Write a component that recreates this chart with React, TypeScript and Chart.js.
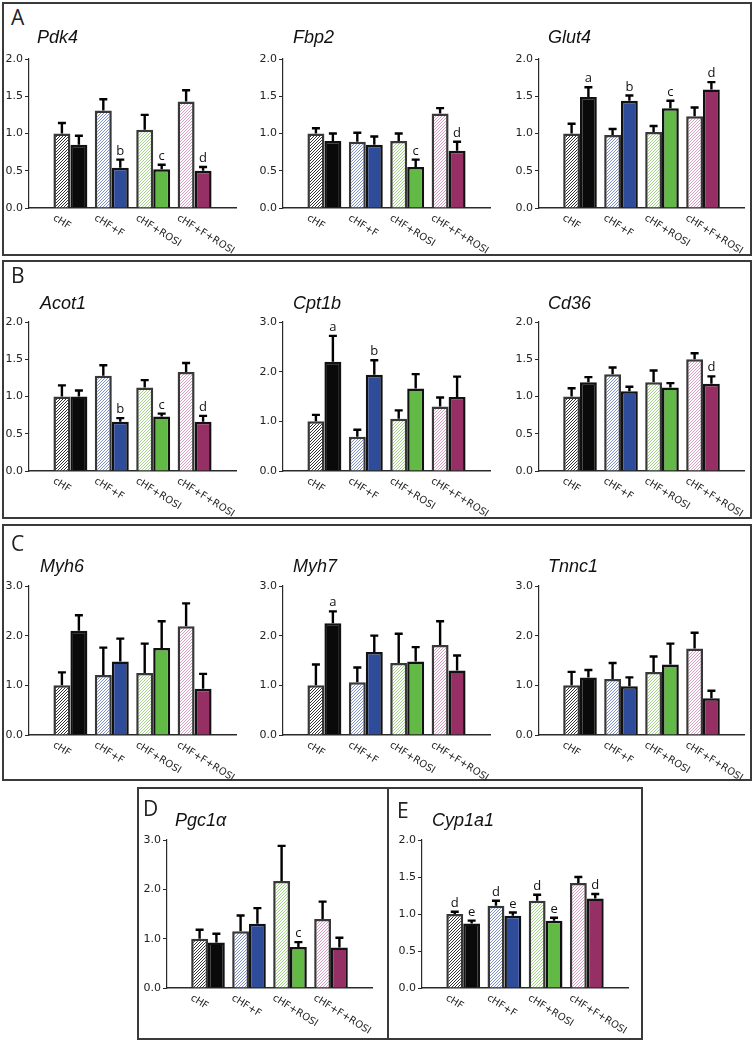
import React, { useEffect, useRef } from "react";
import { Chart, registerables } from "chart.js";

Chart.register(...registerables);

// ---------- data ----------
const categories = ["cHF", "cHF+F", "cHF+ROSI", "cHF+F+ROSI"];

const pdk4Hatched = [1.0, 1.31, 1.05, 1.43];
const pdk4HatchedErr = [0.14, 0.15, 0.2, 0.15];
const pdk4Solid = [0.85, 0.54, 0.52, 0.5];
const pdk4SolidErr = [0.12, 0.11, 0.06, 0.05];
const pdk4Letters = ["", "b", "c", "d"];

const fbp2Hatched = [1.0, 0.89, 0.9, 1.27];
const fbp2HatchedErr = [0.07, 0.12, 0.1, 0.07];
const fbp2Solid = [0.9, 0.85, 0.55, 0.77];
const fbp2SolidErr = [0.1, 0.11, 0.1, 0.12];
const fbp2Letters = ["", "", "c", "d"];

const glut4Hatched = [1.0, 0.98, 1.02, 1.23];
const glut4HatchedErr = [0.13, 0.08, 0.08, 0.12];
const glut4Solid = [1.49, 1.44, 1.34, 1.59];
const glut4SolidErr = [0.13, 0.07, 0.1, 0.1];
const glut4Letters = ["a", "b", "c", "d"];

const acot1Hatched = [1.0, 1.28, 1.12, 1.33];
const acot1HatchedErr = [0.15, 0.14, 0.1, 0.12];
const acot1Solid = [1.0, 0.66, 0.73, 0.66];
const acot1SolidErr = [0.08, 0.05, 0.04, 0.08];
const acot1Letters = ["", "b", "c", "d"];

const cpt1bHatched = [1.0, 0.69, 1.05, 1.3];
const cpt1bHatchedErr = [0.13, 0.14, 0.17, 0.18];
const cpt1bSolid = [2.2, 1.94, 1.66, 1.49];
const cpt1bSolidErr = [0.52, 0.29, 0.29, 0.41];
const cpt1bLetters = ["a", "b", "", ""];

const cd36Hatched = [1.0, 1.3, 1.19, 1.5];
const cd36HatchedErr = [0.11, 0.09, 0.16, 0.08];
const cd36Solid = [1.19, 1.07, 1.12, 1.17];
const cd36SolidErr = [0.07, 0.06, 0.06, 0.1];
const cd36Letters = ["", "", "", "d"];

const myh6Hatched = [1.0, 1.21, 1.25, 2.19];
const myh6HatchedErr = [0.26, 0.55, 0.59, 0.46];
const myh6Solid = [2.1, 1.48, 1.75, 0.93];
const myh6SolidErr = [0.31, 0.46, 0.54, 0.3];

const myh7Hatched = [1.0, 1.06, 1.45, 1.81];
const myh7HatchedErr = [0.42, 0.3, 0.59, 0.48];
const myh7Solid = [2.25, 1.67, 1.48, 1.3];
const myh7SolidErr = [0.24, 0.33, 0.29, 0.3];
const myh7Letters = ["a", "", "", ""];

const tnnc1Hatched = [1.0, 1.13, 1.27, 1.74];
const tnnc1HatchedErr = [0.27, 0.32, 0.31, 0.32];
const tnnc1Solid = [1.16, 0.98, 1.42, 0.74];
const tnnc1SolidErr = [0.15, 0.18, 0.42, 0.15];

const pgc1aHatched = [1.0, 1.15, 2.17, 1.4];
const pgc1aHatchedErr = [0.18, 0.32, 0.71, 0.35];
const pgc1aSolid = [0.92, 1.3, 0.83, 0.82];
const pgc1aSolidErr = [0.18, 0.32, 0.1, 0.2];
const pgc1aLetters = ["", "", "c", ""];

const cyp1a1Hatched = [1.0, 1.11, 1.18, 1.42];
const cyp1a1HatchedErr = [0.03, 0.07, 0.08, 0.08];
const cyp1a1Solid = [0.87, 0.975, 0.91, 1.21];
const cyp1a1SolidErr = [0.04, 0.045, 0.04, 0.06];
const cyp1a1HatchedLetters = ["d", "d", "d", ""];
const cyp1a1SolidLetters = ["e", "e", "e", "d"];

const ticks2 = [0, 0.5, 1.0, 1.5, 2.0];
const ticks3 = [0, 1.0, 2.0, 3.0];
const none = ["", "", "", ""];

// ---------- styles ----------
const hatchLineColors = ["#333333", "#7d8fca", "#a3d486", "#d89cc0"];
const solidColors = ["#0a0a0a", "#2f4c9b", "#62b945", "#962f64"];
const hatchBorder = "#383838";
const solidBorder = "#111111";

type Gene = {
  name: string;
  ticks: number[];
  hatched: number[];
  hatchedErr: number[];
  solid: number[];
  solidErr: number[];
  hatchedLetters: string[];
  solidLetters: string[];
};

const genes: Record<string, Gene> = {
  pdk4: { name: "Pdk4", ticks: ticks2, hatched: pdk4Hatched, hatchedErr: pdk4HatchedErr, solid: pdk4Solid, solidErr: pdk4SolidErr, hatchedLetters: none, solidLetters: pdk4Letters },
  fbp2: { name: "Fbp2", ticks: ticks2, hatched: fbp2Hatched, hatchedErr: fbp2HatchedErr, solid: fbp2Solid, solidErr: fbp2SolidErr, hatchedLetters: none, solidLetters: fbp2Letters },
  glut4: { name: "Glut4", ticks: ticks2, hatched: glut4Hatched, hatchedErr: glut4HatchedErr, solid: glut4Solid, solidErr: glut4SolidErr, hatchedLetters: none, solidLetters: glut4Letters },
  acot1: { name: "Acot1", ticks: ticks2, hatched: acot1Hatched, hatchedErr: acot1HatchedErr, solid: acot1Solid, solidErr: acot1SolidErr, hatchedLetters: none, solidLetters: acot1Letters },
  cpt1b: { name: "Cpt1b", ticks: ticks3, hatched: cpt1bHatched, hatchedErr: cpt1bHatchedErr, solid: cpt1bSolid, solidErr: cpt1bSolidErr, hatchedLetters: none, solidLetters: cpt1bLetters },
  cd36: { name: "Cd36", ticks: ticks2, hatched: cd36Hatched, hatchedErr: cd36HatchedErr, solid: cd36Solid, solidErr: cd36SolidErr, hatchedLetters: none, solidLetters: cd36Letters },
  myh6: { name: "Myh6", ticks: ticks3, hatched: myh6Hatched, hatchedErr: myh6HatchedErr, solid: myh6Solid, solidErr: myh6SolidErr, hatchedLetters: none, solidLetters: none },
  myh7: { name: "Myh7", ticks: ticks3, hatched: myh7Hatched, hatchedErr: myh7HatchedErr, solid: myh7Solid, solidErr: myh7SolidErr, hatchedLetters: none, solidLetters: myh7Letters },
  tnnc1: { name: "Tnnc1", ticks: ticks3, hatched: tnnc1Hatched, hatchedErr: tnnc1HatchedErr, solid: tnnc1Solid, solidErr: tnnc1SolidErr, hatchedLetters: none, solidLetters: none },
  pgc1a: { name: "Pgc1α", ticks: ticks3, hatched: pgc1aHatched, hatchedErr: pgc1aHatchedErr, solid: pgc1aSolid, solidErr: pgc1aSolidErr, hatchedLetters: none, solidLetters: pgc1aLetters },
  cyp1a1: { name: "Cyp1a1", ticks: ticks2, hatched: cyp1a1Hatched, hatchedErr: cyp1a1HatchedErr, solid: cyp1a1Solid, solidErr: cyp1a1SolidErr, hatchedLetters: cyp1a1HatchedLetters, solidLetters: cyp1a1SolidLetters },
};

// ---------- layout ----------
const ROWS: Record<string, [number, number]> = { A: [59, 208], B: [322, 471], C: [586, 735], D: [840, 988] };
const COLS: Record<string, [number, number]> = { c1: [29, 236], c2: [283, 490], c3: [539, 744], d: [167, 372], e: [422, 628] };

const panels = [
  { gene: "pdk4", row: "A", col: "c1", tx: 37, ty: 37 },
  { gene: "fbp2", row: "A", col: "c2", tx: 293, ty: 37 },
  { gene: "glut4", row: "A", col: "c3", tx: 548, ty: 37 },
  { gene: "acot1", row: "B", col: "c1", tx: 40, ty: 303 },
  { gene: "cpt1b", row: "B", col: "c2", tx: 293, ty: 303 },
  { gene: "cd36", row: "B", col: "c3", tx: 548, ty: 303 },
  { gene: "myh6", row: "C", col: "c1", tx: 40, ty: 566 },
  { gene: "myh7", row: "C", col: "c2", tx: 293, ty: 566 },
  { gene: "tnnc1", row: "C", col: "c3", tx: 548, ty: 566 },
  { gene: "pgc1a", row: "D", col: "d", tx: 175, ty: 820 },
  { gene: "cyp1a1", row: "D", col: "e", tx: 432, ty: 820 },
];

const boxes = [
  { l: 2, t: 2, r: 752, b: 256 },
  { l: 2, t: 260, r: 752, b: 519 },
  { l: 2, t: 524, r: 752, b: 781 },
  { l: 137, t: 787, r: 389, b: 1040 },
  { l: 387, t: 787, r: 643, b: 1040 },
];

const panelLetters = [
  { s: "A", x: 11, y: 17 },
  { s: "B", x: 11, y: 275 },
  { s: "C", x: 11, y: 543 },
  { s: "D", x: 143, y: 808 },
  { s: "E", x: 397, y: 810 },
];

const Y_AXIS_W = 28;
const PAD_TOP = 14;
const PAD_RIGHT = 6;
const PAD_BOTTOM = 46;

function makeHatch(color: string): CanvasPattern | string {
  const n = 3;
  const c = document.createElement("canvas");
  c.width = n;
  c.height = n;
  const x = c.getContext("2d");
  if (!x) return "#fff";
  x.fillStyle = "#ffffff";
  x.fillRect(0, 0, n, n);
  x.strokeStyle = color;
  x.lineWidth = 1;
  x.beginPath();
  x.moveTo(0, n);
  x.lineTo(n, 0);
  x.moveTo(-1, 1);
  x.lineTo(1, -1);
  x.moveTo(n - 1, n + 1);
  x.lineTo(n + 1, n - 1);
  x.stroke();
  const p = x.createPattern(c, "repeat");
  return p || "#fff";
}

function BarChart({ gene, row, col }: { gene: Gene; row: string; col: string }) {
  const ref = useRef<HTMLCanvasElement>(null);
  const [yTop, yBottom] = ROWS[row];
  const [aL, aR] = COLS[col];
  const left = aL - Y_AXIS_W;
  const top = yTop - PAD_TOP;
  const width = aR - aL + Y_AXIS_W + PAD_RIGHT;
  const height = yBottom - yTop + PAD_TOP + PAD_BOTTOM;

  useEffect(() => {
    if (!ref.current) return;
    const maxV = gene.ticks[gene.ticks.length - 1];
    const overlay = {
      id: "overlay",
      afterDatasetsDraw(chart: any) {
        const ctx = chart.ctx;
        const ys = chart.scales.y;
        const sets = [
          { vals: gene.hatched, errs: gene.hatchedErr, letters: gene.hatchedLetters },
          { vals: gene.solid, errs: gene.solidErr, letters: gene.solidLetters },
        ];
        sets.forEach((s, di) => {
          const meta = chart.getDatasetMeta(di);
          meta.data.forEach((bar: any, i: number) => {
            const topPx = ys.getPixelForValue(s.vals[i] + s.errs[i]);
            ctx.save();
            ctx.strokeStyle = "#000";
            ctx.lineWidth = 2.4;
            ctx.beginPath();
            ctx.moveTo(bar.x, bar.y);
            ctx.lineTo(bar.x, topPx);
            ctx.moveTo(bar.x - 4, topPx);
            ctx.lineTo(bar.x + 4, topPx);
            ctx.stroke();
            if (s.letters[i]) {
              ctx.fillStyle = "#111";
              ctx.font = '13px "Open Sans"';
              ctx.textAlign = "center";
              ctx.textBaseline = "alphabetic";
              ctx.fillText(s.letters[i], bar.x, topPx - 5);
            }
            ctx.restore();
          });
        });
      },
      afterDraw(chart: any) {
        const ctx = chart.ctx;
        const xs = chart.scales.x;
        const bottom = chart.chartArea.bottom;
        categories.forEach((c, i) => {
          ctx.save();
          ctx.translate(xs.getPixelForValue(i) - 14, bottom + 5);
          ctx.rotate((32 * Math.PI) / 180);
          ctx.font = '10px "DejaVu Sans"';
          ctx.textAlign = "left";
          ctx.textBaseline = "top";
          ctx.fillStyle = "#222";
          ctx.fillText(c, 0, 0);
          ctx.restore();
        });
      },
    };

    const chart = new Chart(ref.current, {
      type: "bar",
      data: {
        datasets: [
          {
            label: "hatched",
            data: categories.map((_, i) => ({ x: i, y: gene.hatched[i] })),
            backgroundColor: hatchLineColors.map((c) => makeHatch(c)) as any,
            borderColor: hatchBorder,
            borderWidth: 2.5,
            categoryPercentage: 0.82,
            barPercentage: 1,
          },
          {
            label: "solid",
            data: categories.map((_, i) => ({ x: i, y: gene.solid[i] })),
            backgroundColor: solidColors,
            borderColor: solidBorder,
            borderWidth: 2.5,
            categoryPercentage: 0.82,
            barPercentage: 1,
          },
        ],
      },
      options: {
        animation: false,
        responsive: false,
        devicePixelRatio: 1,
        layout: { padding: { top: PAD_TOP, right: PAD_RIGHT, bottom: PAD_BOTTOM, left: 0 } },
        plugins: { legend: { display: false }, tooltip: { enabled: false }, title: { display: false } },
        scales: {
          x: {
            type: "linear",
            min: -1,
            max: 4,
            offset: false,
            ticks: { display: false, stepSize: 1 },
            grid: { display: true, offset: false, drawOnChartArea: false, drawTicks: false },
            border: { display: true, color: "#2a2a2a", width: 1.4 },
            afterFit: (s: any) => {
              s.height = 0;
            },
          },
          y: {
            type: "linear",
            min: 0,
            max: maxV,
            afterBuildTicks: (s: any) => {
              s.ticks = gene.ticks.map((v) => ({ value: v }));
            },
            ticks: {
              callback: (v: any) => Number(v).toFixed(1),
              font: { family: '"DejaVu Sans"', size: 11 },
              color: "#222",
              padding: 2,
              autoSkip: false,
            },
            grid: { drawOnChartArea: false, drawTicks: true, tickLength: 4, color: "#2a2a2a", lineWidth: 1 },
            border: { display: true, color: "#2a2a2a", width: 1.2 },
            afterFit: (s: any) => {
              s.width = Y_AXIS_W;
            },
          },
        },
      } as any,
      plugins: [overlay],
    });
    return () => chart.destroy();
  }, []);

  return (
    <canvas
      ref={ref}
      width={width}
      height={height}
      style={{ position: "absolute", left, top, width, height }}
    />
  );
}

export default function App() {
  return (
    <div
      style={{
        position: "absolute",
        left: 0,
        top: 0,
        width: 754,
        height: 1042,
        background: "#ffffff",
        overflow: "hidden",
      }}
    >
      {boxes.map((b, i) => (
        <div
          key={"box" + i}
          style={{
            position: "absolute",
            left: b.l,
            top: b.t,
            width: b.r - b.l,
            height: b.b - b.t,
            border: "2px solid #3a3a3a",
            boxSizing: "border-box",
          }}
        />
      ))}
      {panels.map((p) => (
        <BarChart key={p.gene} gene={genes[p.gene]} row={p.row} col={p.col} />
      ))}
      {panels.map((p) => (
        <div
          key={"t" + p.gene}
          style={{
            position: "absolute",
            left: p.tx,
            top: p.ty - 11,
            fontFamily: '"Liberation Sans", Arial, sans-serif',
            fontStyle: "italic",
            fontSize: 18,
            lineHeight: "22px",
            color: "#111",
            whiteSpace: "nowrap",
          }}
        >
          {genes[p.gene].name}
        </div>
      ))}
      {panelLetters.map((l) => (
        <div
          key={"l" + l.s}
          style={{
            position: "absolute",
            left: l.x,
            top: l.y - 13,
            fontFamily: '"Open Sans", sans-serif',
            fontSize: 21,
            lineHeight: "26px",
            color: "#222",
          }}
        >
          {l.s}
        </div>
      ))}
    </div>
  );
}
